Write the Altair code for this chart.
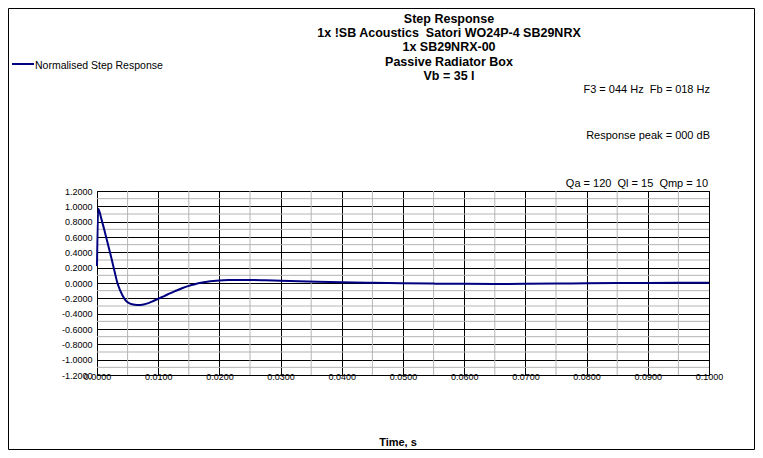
import altair as alt
import pandas as pd

# ---- data ----
time_s = [0.0, 0.0002, 0.0007, 0.0013, 0.0019, 0.0024, 0.0029, 0.0033, 0.0038,
          0.0046, 0.0054, 0.0062, 0.0068, 0.0076, 0.0084, 0.0092, 0.0100, 0.0110,
          0.0119, 0.0130, 0.0140, 0.0150, 0.0160, 0.0170, 0.0180, 0.0190, 0.0200,
          0.0215, 0.0230, 0.0250, 0.0275, 0.0300, 0.0330, 0.0360, 0.0400, 0.0450,
          0.0500, 0.0550, 0.0600, 0.0650, 0.0700, 0.0750, 0.0800, 0.0850, 0.0900,
          0.0950, 0.1000]
step_resp = [0.22, 0.97, 0.84, 0.66, 0.47, 0.31, 0.14, 0.01, -0.10,
             -0.22, -0.27, -0.285, -0.288, -0.28, -0.262, -0.235, -0.205, -0.17,
             -0.135, -0.098, -0.065, -0.038, -0.016, 0.002, 0.015, 0.025, 0.032,
             0.038, 0.040, 0.040, 0.036, 0.030, 0.024, 0.017, 0.009, 0.002,
             -0.004, -0.008, -0.011, -0.012, -0.011, -0.008, -0.004, -0.001, 0.001,
             0.002, 0.002]

x_major = [0.0, 0.01, 0.02, 0.03, 0.04, 0.05, 0.06, 0.07, 0.08, 0.09, 0.1]
x_minor = [0.005, 0.015, 0.025, 0.035, 0.045, 0.055, 0.065, 0.075, 0.085, 0.095]
y_major = [-1.2, -1.0, -0.8, -0.6, -0.4, -0.2, 0.0, 0.2, 0.4, 0.6, 0.8, 1.0, 1.2]
y_minor = [-1.1, -0.9, -0.7, -0.5, -0.3, -0.1, 0.1, 0.3, 0.5, 0.7, 0.9, 1.1]

NB = "\u00a0"
title_lines = ["Step Response",
               "1x !SB Acoustics " + NB + "Satori WO24P-4 SB29NRX",
               "1x SB29NRX-00",
               "Passive Radiator Box",
               "Vb = 35 l"]
note_f3 = "F3 = 044 Hz " + NB + "Fb = 018 Hz"
note_peak = "Response peak = 000 dB"
note_q = "Qa = 120 " + NB + "Ql = 15 " + NB + "Qmp = 10"
legend_label = "Normalised Step Response"
x_title = "Time, s"

FONT = "Liberation Sans, Arial, sans-serif"
NAVY = "#000080"
W, H = 612, 184
PAD = {"left": 89, "top": 183, "right": 46, "bottom": 75}

curve_df = pd.DataFrame({"t": time_s, "v": step_resp})
xminor_df = pd.DataFrame({"t": x_minor})
yminor_df = pd.DataFrame({"v": y_minor})
one = pd.DataFrame({"k": [0]})

xscale = alt.Scale(domain=[0, 0.1], nice=False, zero=False)
yscale = alt.Scale(domain=[-1.2, 1.2], nice=False, zero=False)

lab_expr = "replace(format(datum.value, '.4f'), '\u2212', '-')"

xaxis = alt.Axis(values=x_major, labelExpr=lab_expr, title=None, grid=True,
                 labelPadding=-3, labelFlush=False, labelOverlap=False, labelBound=False)
yaxis = alt.Axis(values=y_major, labelExpr=lab_expr, title=None, grid=True,
                 labelPadding=5, labelOverlap=False, labelBound=False, labelFlush=False)

xminor = alt.Chart(xminor_df).mark_rule(color="#b4b4b4", strokeWidth=1).encode(
    x=alt.X("t:Q", scale=xscale, axis=xaxis))
yminor = alt.Chart(yminor_df).mark_rule(color="#b4b4b4", strokeWidth=1).encode(
    y=alt.Y("v:Q", scale=yscale, axis=yaxis))

line = alt.Chart(curve_df).mark_line(color=NAVY, strokeWidth=2, interpolate="monotone").encode(
    x=alt.X("t:Q", scale=xscale, axis=xaxis),
    y=alt.Y("v:Q", scale=yscale, axis=yaxis),
)

title = alt.Chart(one).mark_text(
    text=title_lines, font=FONT, fontSize=12.5, fontWeight="bold", align="center",
    baseline="alphabetic", lineHeight=14.4, color="black"
).encode(x=alt.value(352), y=alt.value(-168.5))

f3 = alt.Chart(one).mark_text(text=note_f3, font=FONT, fontSize=11, align="right",
                              baseline="alphabetic", color="black").encode(
    x=alt.value(613), y=alt.value(-98))
peak = alt.Chart(one).mark_text(text=note_peak, font=FONT, fontSize=11, align="right",
                                baseline="alphabetic", color="black").encode(
    x=alt.value(613), y=alt.value(-52.5))
qnote = alt.Chart(one).mark_text(text=note_q, font=FONT, fontSize=11, align="right",
                                 baseline="alphabetic", color="black").encode(
    x=alt.value(611), y=alt.value(-4))

leg_line = alt.Chart(one).mark_rule(color=NAVY, strokeWidth=2).encode(
    x=alt.value(-85), x2=alt.value(-63), y=alt.value(-127))
leg_text = alt.Chart(one).mark_text(text=legend_label, font=FONT, fontSize=10.5,
                                    align="left", baseline="alphabetic", color="black").encode(
    x=alt.value(-62), y=alt.value(-122.5))

xt = alt.Chart(one).mark_text(text=x_title, font=FONT, fontSize=11, fontWeight="bold",
                              align="center", baseline="alphabetic", color="black").encode(
    x=alt.value(301), y=alt.value(255))

border = alt.Chart(one).mark_rect(fillOpacity=0, stroke="black", strokeWidth=1).encode(
    x=alt.value(-88.5), x2=alt.value(W + PAD["right"] - 0.5),
    y=alt.value(-182.5), y2=alt.value(H + PAD["bottom"] - 0.5))

chart = alt.layer(
    xminor, yminor, line, title, f3, peak, qnote, leg_line, leg_text, xt, border
).properties(
    width=W, height=H, padding=PAD, autosize="none", background="white"
).configure_view(
    stroke="black", strokeWidth=1
).configure_axis(
    labelFont=FONT, labelFontSize=9, labelColor="black",
    domainColor="black", domainWidth=1, gridColor="black", gridOpacity=1, gridWidth=1,
    ticks=False
)

chart.save("out.html", embed_options={"renderer": "svg", "actions": False})
